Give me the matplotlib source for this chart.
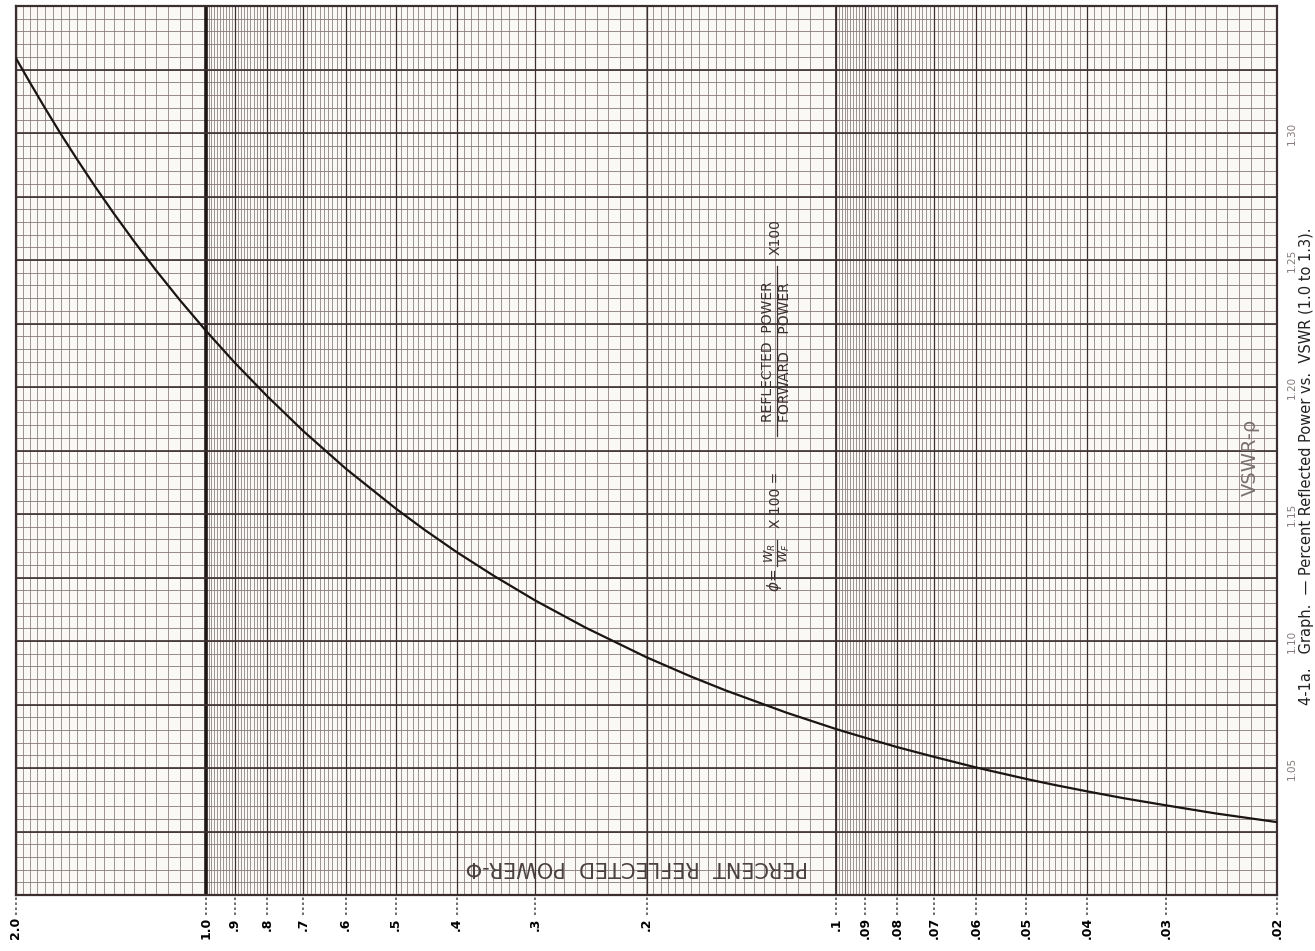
import numpy as np
import matplotlib.pyplot as plt
import matplotlib.transforms as mtransforms

# percent reflected power and VSWR
pct = [2.0, 1.9, 1.8, 1.7, 1.6, 1.5, 1.4, 1.3, 1.2, 1.1, 1.0, 0.9, 0.8, 0.7,
       0.6, 0.5, 0.45, 0.4, 0.35, 0.3, 0.25, 0.2, 0.17, 0.15, 0.12, 0.1,
       0.09, 0.08, 0.07, 0.06, 0.05, 0.045, 0.04, 0.035, 0.03, 0.025, 0.02]
vswr = [1.3294, 1.3198, 1.3099, 1.2998, 1.2896, 1.2791, 1.2684, 1.2574,
        1.2460, 1.2343, 1.2222, 1.2096, 1.1965, 1.1826, 1.1679, 1.1522,
        1.1438, 1.1350, 1.1258, 1.1159, 1.1053, 1.0936, 1.0860, 1.0806,
        1.0718, 1.0653, 1.0619, 1.0582, 1.0544, 1.0502, 1.0457, 1.0433,
        1.0408, 1.0381, 1.0353, 1.0321, 1.0287]

x_ticks = [2.0, 1.0, 0.9, 0.8, 0.7, 0.6, 0.5, 0.4, 0.3, 0.2,
           0.1, 0.09, 0.08, 0.07, 0.06, 0.05, 0.04, 0.03, 0.02]
x_labels = ['2.0', '1.0', '.9', '.8', '.7', '.6', '.5', '.4', '.3', '.2',
            '.1', '.09', '.08', '.07', '.06', '.05', '.04', '.03', '.02']
vswr_ticks = [1.05, 1.10, 1.15, 1.20, 1.25, 1.30]
vswr_labels = ['1.05', '1.10', '1.15', '1.20', '1.25', '1.30']

paper = '#fbf9f6'
ink = '#3a2e30'
minor_c = '#85777a'
W, H = 1315, 951

fig = plt.figure(figsize=(W / 100, H / 100), dpi=100, facecolor='white')
ax = fig.add_axes([16 / W, 56 / H, 1261 / W, 889 / H])
ax.set_facecolor(paper)
ax.set_xscale('log')
ax.set_xlim(2.0, 0.02)
ax.set_ylim(1.0, 1.35)

# log paper rulings
segs = [(1.0, 2.0, 0.05), (0.5, 1.0, 0.01), (0.2, 0.5, 0.01), (0.1, 0.2, 0.005),
        (0.05, 0.1, 0.001), (0.02, 0.05, 0.001)]
xs = np.concatenate([np.arange(a, b + s / 2, s) for a, b, s in segs])
ax.vlines(xs, 1.0, 1.35, color=minor_c, lw=0.55, zorder=1)
ax.vlines(x_ticks, 1.0, 1.35, color=ink, lw=0.9, zorder=2)
ax.vlines([1.0], 1.0, 1.35, color='#1e1617', lw=2.6, zorder=2)
ax.vlines([0.1], 1.0, 1.35, color=ink, lw=1.3, zorder=2)

ys = np.arange(1.0, 1.3501, 0.005)
ax.hlines(ys, 0.02, 2.0, color=minor_c, lw=0.6, zorder=1)
ax.hlines(np.arange(1.0, 1.3501, 0.025), 0.02, 2.0, color=ink, lw=1.2, zorder=2)

# curve
ax.plot(pct, vswr, color='#1a1414', lw=1.6, zorder=4)

for sp in ax.spines.values():
    sp.set_linewidth(1.6)
    sp.set_color(ink)

# dotted leader ticks below the grid
tb = mtransforms.blended_transform_factory(ax.transData, ax.transAxes)
ax.vlines(x_ticks, -20 / 889, 0, transform=tb, color='#555', lw=1.2,
          linestyles=(0, (1.5, 1.5)), clip_on=False)
ax.set_xticks(x_ticks)
ax.set_xticklabels(x_labels, rotation=90, fontsize=9, fontweight='bold')
ax.set_xticks([], minor=True)
ax.tick_params(axis='x', length=0, pad=16)
ax.set_yticks([])

# VSWR labels on right side
trans = mtransforms.blended_transform_factory(ax.transAxes, ax.transData)
for v, lab in zip(vswr_ticks, vswr_labels):
    ax.text((1292 - 16) / 1261, v, lab, transform=trans, rotation=90, fontsize=7.5,
            color='#857a7a', ha='center', va='center')

ax.text((1250 - 16) / 1261, (895 - 457) / 889, 'VSWR-ρ', transform=ax.transAxes,
        rotation=90, fontsize=14, color='#7a7070', ha='center', va='center', zorder=5)

ax.text((637 - 16) / 1261, (895 - 867) / 889, 'PERCENT  REFLECTED  POWER-Φ',
        transform=ax.transAxes, rotation=180, fontsize=15, color='#4a4040',
        ha='center', va='center', zorder=5)

# formula, written in pieces along the rotated baseline
fcol = '#3a3030'
def ftxt(px, py, s, size=10):
    fig.text(px / W, 1 - py / H, s, rotation=90, fontsize=size, color=fcol,
             ha='center', va='center', zorder=5)

ftxt(775, 580, r'$\phi$=', 11)
ftxt(770, 553, r'$W_R$', 9)
ftxt(784, 553, r'$W_F$', 9)
fig.add_artist(plt.Line2D([777 / W, 777 / W], [1 - 540 / H, 1 - 566 / H],
                          color=fcol, lw=0.9))
ftxt(776, 500, 'X 100 =', 10)
ftxt(768, 352, 'REFLECTED  POWER', 10)
ftxt(785, 352, 'FORWARD    POWER', 10)
fig.add_artist(plt.Line2D([777 / W, 777 / W], [1 - 266 / H, 1 - 436 / H],
                          color=fcol, lw=0.9))
ftxt(776, 237, 'X100', 10)

fig.text(1307 / W, 1 - 466 / H,
         '4-1a.   Graph.  — Percent Reflected Power vs.  VSWR (1.0 to 1.3).',
         rotation=90, fontsize=10.5, color='#222',
         family=['Liberation Sans Narrow', 'DejaVu Sans Condensed', 'DejaVu Sans'],
         ha='center', va='center')

fig.savefig('out.png', dpi=100, facecolor='white')
